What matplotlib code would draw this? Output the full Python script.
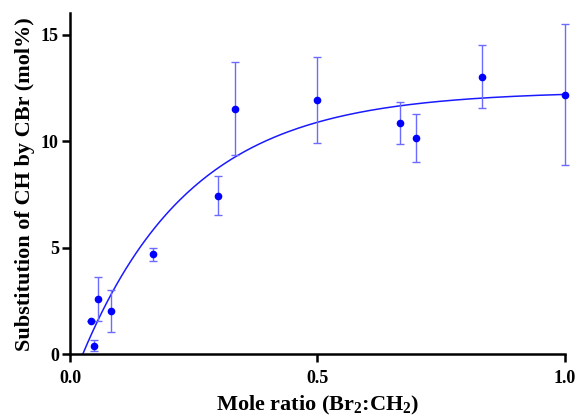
import numpy as np
import matplotlib
matplotlib.use('Agg')
import matplotlib.pyplot as plt

# data
ratio = [0.042, 0.049, 0.056, 0.083, 0.167, 0.300, 0.333, 0.500, 0.667, 0.700, 0.833, 1.000]
subst = [1.56, 0.39, 2.58, 2.04, 4.70, 7.43, 11.53, 11.94, 10.84, 10.15, 13.02, 12.19]
err_lo = [0.0, 0.24, 1.02, 0.97, 0.30, 0.91, 2.17, 2.01, 0.99, 1.12, 1.47, 3.30]
err_hi = [0.0, 0.30, 1.07, 0.98, 0.30, 0.92, 2.17, 2.02, 0.99, 1.12, 1.49, 3.31]

# fitted curve: y = A*(1 - exp(-k*(x - x0)))
fit_A = 12.35
fit_k = 4.5
fit_x0 = 0.0257

plt.rcParams['font.family'] = ['Liberation Serif', 'DejaVu Serif']
plt.rcParams['font.weight'] = 'bold'
plt.rcParams['mathtext.fontset'] = 'custom'
plt.rcParams['mathtext.rm'] = 'Liberation Serif:bold'
plt.rcParams['mathtext.bf'] = 'Liberation Serif:bold'
plt.rcParams['mathtext.default'] = 'bf'

fig = plt.figure(figsize=(5.78, 4.16), dpi=100)
ax = fig.add_axes([0.121, 0.148, 0.856, 0.820])

xf = np.linspace(fit_x0, 1.0, 200)
yf = fit_A * (1 - np.exp(-fit_k * (xf - fit_x0)))
ax.plot(xf, yf, color='#1a1aff', lw=1.1, zorder=2)

ax.errorbar(ratio, subst, yerr=[err_lo, err_hi], fmt='none', ecolor='#6b6bff',
            elinewidth=1.0, capsize=3, capthick=1.0, zorder=3, clip_on=False)
ax.plot(ratio, subst, 'o', color='#0000ff', ms=4.5, zorder=4, clip_on=False)

ax.set_xlim(0, 1.0)
ax.set_ylim(0, 16)
ax.set_xticks([0, 0.5, 1.0])
ax.set_xticklabels(['0.0', '0.5', '1.0'])
ax.set_yticks([0, 5, 10, 15])

for s in ['top', 'right']:
    ax.spines[s].set_visible(False)
for s in ['left', 'bottom']:
    ax.spines[s].set_linewidth(1.8)
ax.tick_params(width=1.8, length=6, labelsize=13, pad=2)
ax.tick_params(axis='x', pad=5)
for lab in ax.get_xticklabels() + ax.get_yticklabels():
    lab.set_fontweight('bold')

ax.set_xlabel('Mole ratio (Br$_2$:CH$_2$)', fontsize=16, fontweight='bold', labelpad=5)
ax.set_ylabel('Substitution of CH by CBr (mol%)', fontsize=16, fontweight='bold', labelpad=4)

fig.savefig('out.png', dpi=100)
